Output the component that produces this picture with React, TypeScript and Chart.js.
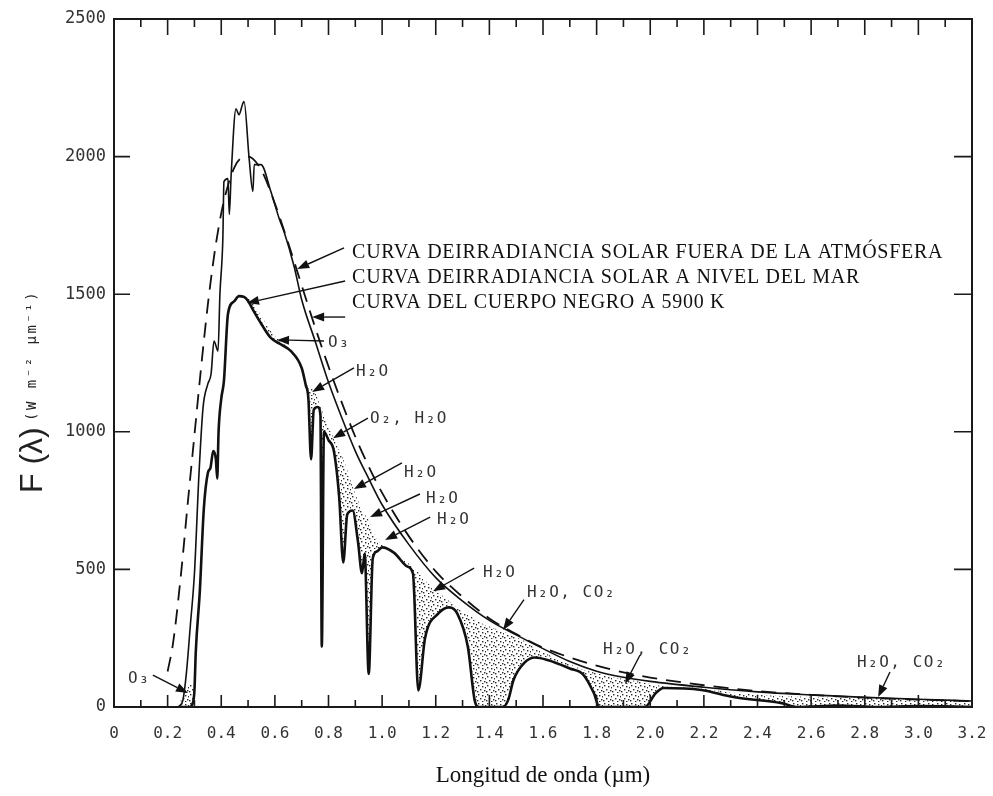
import React, { useEffect, useRef } from 'react';
import { Chart, registerables } from 'chart.js';

Chart.register(...registerables);

// ---- axis ranges ----
const X_MIN = 0;
const X_MAX = 3.2;
const X_STEP = 0.2;
const Y_MIN = 0;
const Y_MAX = 2500;
const Y_STEP = 500;

// ---- blackbody 5900 K (dashed) ----
const blackbodyX = [0.2, 0.22, 0.25, 0.275, 0.3, 0.325, 0.35, 0.375, 0.4, 0.425, 0.45, 0.475, 0.5, 0.55, 0.6, 0.65, 0.7, 0.75, 0.8, 0.85, 0.9, 0.95, 1.0, 1.1, 1.2, 1.3, 1.4, 1.5, 1.6, 1.7, 1.8, 1.9, 2.0, 2.2, 2.4, 2.6, 2.8, 3.0, 3.2];
const blackbodyY = [129, 230, 484, 740, 988, 1235, 1462, 1650, 1794, 1895, 1963, 1995, 2000, 1950, 1829, 1685, 1532, 1380, 1237, 1105, 982, 874, 778, 620, 493, 400, 322, 265, 216, 180, 150, 126, 107, 79, 58, 44, 34, 27, 21];

// ---- irradiance outside the atmosphere (thin solid) ----
const outsideX = [0.24, 0.257, 0.27, 0.285, 0.3, 0.317, 0.332, 0.35, 0.362, 0.373, 0.388, 0.395, 0.406, 0.41, 0.425, 0.43, 0.437, 0.455, 0.466, 0.48, 0.485, 0.504, 0.518, 0.523, 0.548, 0.585, 0.616, 0.634, 0.672, 0.7, 0.75, 0.8, 0.85, 0.9, 0.95, 1.0, 1.1, 1.2, 1.3, 1.4, 1.5, 1.6, 1.7, 1.8, 1.9, 2.0, 2.2, 2.4, 2.6, 2.8, 3.0, 3.2];
const outsideY = [0, 25, 123, 300, 485, 848, 1087, 1174, 1210, 1330, 1293, 1500, 1703, 1909, 1920, 1790, 1935, 2174, 2152, 2192, 2200, 1993, 1873, 1971, 1971, 1873, 1775, 1728, 1600, 1480, 1330, 1180, 1050, 930, 830, 735, 590, 470, 385, 315, 262, 212, 165, 130, 108, 93, 72, 55, 44, 35, 28, 22];

// ---- irradiance at sea level (thick solid) and top of absorbed (stippled) area ----
const seaLevelX = [0.24, 0.26, 0.28, 0.295, 0.3, 0.305, 0.32, 0.335, 0.35, 0.36, 0.37, 0.38, 0.385, 0.39, 0.4, 0.41, 0.425, 0.448, 0.466, 0.485, 0.5, 0.52, 0.55, 0.585, 0.62, 0.66, 0.7, 0.715, 0.725, 0.735, 0.745, 0.76, 0.77, 0.775, 0.783, 0.8, 0.82, 0.84, 0.855, 0.87, 0.89, 0.91, 0.925, 0.935, 0.95, 0.965, 0.98, 1.0, 1.045, 1.095, 1.115, 1.135, 1.16, 1.21, 1.25, 1.28, 1.32, 1.345, 1.36, 1.45, 1.47, 1.49, 1.53, 1.57, 1.62, 1.7, 1.75, 1.79, 1.81, 1.88, 1.98, 2.02, 2.05, 2.19, 2.31, 2.49, 2.55, 2.7, 2.85, 3.0, 3.2];
const seaLevelY = [0, 0, 0, 18, 60, 200, 420, 720, 850, 870, 930, 900, 830, 1000, 1120, 1185, 1428, 1474, 1493, 1490, 1475, 1440, 1391, 1341, 1319, 1293, 1232, 1170, 1120, 900, 1080, 1090, 1060, 220, 1000, 970, 930, 760, 525, 700, 714, 600, 486, 558, 120, 540, 565, 580, 560, 510, 485, 60, 250, 340, 362, 340, 217, 25, 0, 0, 25, 98, 160, 180, 170, 140, 118, 50, 0, 0, 0, 50, 69, 62, 36, 14, 0, 5, 0, 3, 0];
const absorptionTopY = [0, 50, 80, 80, 80, 200, 420, 720, 850, 870, 930, 900, 830, 1000, 1120, 1185, 1428, 1474, 1493, 1490, 1485, 1465, 1420, 1365, 1330, 1295, 1232, 1190, 1175, 1160, 1150, 1120, 1090, 1080, 1060, 1020, 975, 930, 900, 860, 800, 750, 720, 700, 678, 640, 610, 590, 560, 525, 505, 490, 460, 417, 385, 360, 335, 320, 310, 275, 268, 258, 240, 215, 190, 155, 135, 125, 120, 105, 88, 80, 75, 68, 52, 40, 38, 35, 33, 28, 22];

// ---- annotation texts (anchored in data units) ----
const curveLabels = [
  { text: 'CURVA DEIRRADIANCIA SOLAR FUERA DE LA ATMÓSFERA', x: 0.888, y: 1632 },
  { text: 'CURVA DEIRRADIANCIA SOLAR A NIVEL DEL MAR', x: 0.888, y: 1541 },
  { text: 'CURVA DEL CUERPO NEGRO A 5900 K', x: 0.888, y: 1450 },
];
const gasLabels = [
  { text: 'O₃', x: 0.798, y: 1308 },
  { text: 'H₂O', x: 0.903, y: 1203 },
  { text: 'O₂, H₂O', x: 0.955, y: 1032 },
  { text: 'H₂O', x: 1.082, y: 836 },
  { text: 'H₂O', x: 1.164, y: 741 },
  { text: 'H₂O', x: 1.205, y: 665 },
  { text: 'H₂O', x: 1.376, y: 472 },
  { text: 'H₂O, CO₂', x: 1.54, y: 400 },
  { text: 'H₂O, CO₂', x: 1.824, y: 193 },
  { text: 'H₂O, CO₂', x: 2.771, y: 145 },
  { text: 'O₃', x: 0.052, y: 87 },
];
const arrows = [
  { x1: 0.858, y1: 1668, x2: 0.683, y2: 1592 },
  { x1: 0.862, y1: 1548, x2: 0.496, y2: 1468 },
  { x1: 0.862, y1: 1417, x2: 0.739, y2: 1417 },
  { x1: 0.783, y1: 1330, x2: 0.608, y2: 1334 },
  { x1: 0.895, y1: 1232, x2: 0.739, y2: 1145 },
  { x1: 0.947, y1: 1050, x2: 0.817, y2: 977 },
  { x1: 1.074, y1: 887, x2: 0.895, y2: 792 },
  { x1: 1.141, y1: 774, x2: 0.955, y2: 690 },
  { x1: 1.179, y1: 690, x2: 1.011, y2: 607 },
  { x1: 1.343, y1: 505, x2: 1.19, y2: 421 },
  { x1: 1.529, y1: 390, x2: 1.451, y2: 280 },
  { x1: 1.962, y1: 189, x2: 1.906, y2: 84 },
  { x1: 2.894, y1: 127, x2: 2.85, y2: 36 },
  { x1: 0.145, y1: 116, x2: 0.276, y2: 51 },
];

const X_TITLE = 'Longitud de onda (µm)';
const Y_TITLE_MAIN = 'F (λ)';
const Y_TITLE_UNITS = '(W m⁻² µm⁻¹)';

const pts = (xs: number[], ys: number[]) => xs.map((x, i) => ({ x, y: ys[i] }));

function drawArrow(ctx: CanvasRenderingContext2D, x1: number, y1: number, x2: number, y2: number) {
  const ang = Math.atan2(y2 - y1, x2 - x1);
  const len = 12;
  const w = 4.5;
  const bx = x2 - len * Math.cos(ang);
  const by = y2 - len * Math.sin(ang);
  ctx.beginPath();
  ctx.moveTo(x1, y1);
  ctx.lineTo(bx, by);
  ctx.stroke();
  ctx.beginPath();
  ctx.moveTo(x2, y2);
  ctx.lineTo(bx + w * Math.sin(ang), by - w * Math.cos(ang));
  ctx.lineTo(bx - w * Math.sin(ang), by + w * Math.cos(ang));
  ctx.closePath();
  ctx.fill();
}

const decorPlugin = {
  id: 'decor',
  afterDraw(chart: any) {
    const { ctx, chartArea: a } = chart;
    const xs = chart.scales.x;
    const ys = chart.scales.y;
    ctx.save();
    // frame
    ctx.strokeStyle = '#1a1a1a';
    ctx.lineWidth = 2;
    ctx.strokeRect(a.left, a.top, a.right - a.left, a.bottom - a.top);
    // inward ticks
    ctx.lineWidth = 1.6;
    ctx.beginPath();
    const xv: number[] = xs.ticks.map((t: any) => t.value);
    xv.forEach((v, i) => {
      const px = xs.getPixelForValue(v);
      if (i > 0 && i < xv.length - 1) {
        ctx.moveTo(px, a.bottom); ctx.lineTo(px, a.bottom - 12);
        ctx.moveTo(px, a.top); ctx.lineTo(px, a.top + 16);
      }
      if (i < xv.length - 1) {
        const pm = xs.getPixelForValue((v + xv[i + 1]) / 2);
        ctx.moveTo(pm, a.bottom); ctx.lineTo(pm, a.bottom - 7);
        ctx.moveTo(pm, a.top); ctx.lineTo(pm, a.top + 8);
      }
    });
    const yv: number[] = ys.ticks.map((t: any) => t.value);
    yv.forEach((v, i) => {
      if (i === 0 || i === yv.length - 1) return;
      const py = ys.getPixelForValue(v);
      ctx.moveTo(a.left, py); ctx.lineTo(a.left + 16, py);
      ctx.moveTo(a.right, py); ctx.lineTo(a.right - 18, py);
    });
    ctx.stroke();

    // arrows
    ctx.strokeStyle = '#111';
    ctx.fillStyle = '#111';
    ctx.lineWidth = 1.4;
    arrows.forEach((ar) => {
      drawArrow(ctx, xs.getPixelForValue(ar.x1), ys.getPixelForValue(ar.y1), xs.getPixelForValue(ar.x2), ys.getPixelForValue(ar.y2));
    });

    // curve labels
    ctx.textAlign = 'left';
    ctx.textBaseline = 'alphabetic';
    ctx.fillStyle = '#111';
    ctx.font = '20px "Liberation Serif"';
    (ctx as any).letterSpacing = '0.7px';
    curveLabels.forEach((l) => ctx.fillText(l.text, xs.getPixelForValue(l.x), ys.getPixelForValue(l.y)));

    // gas labels
    ctx.fillStyle = '#333';
    ctx.font = '16px "DejaVu Sans Mono"';
    (ctx as any).letterSpacing = '1.5px';
    gasLabels.forEach((l) => ctx.fillText(l.text, xs.getPixelForValue(l.x), ys.getPixelForValue(l.y)));

    // x title
    (ctx as any).letterSpacing = '0px';
    ctx.fillStyle = '#111';
    ctx.textAlign = 'center';
    ctx.font = '23px "Liberation Serif"';
    ctx.fillText(X_TITLE, (a.left + a.right) / 2, 782);

    // y title
    ctx.save();
    ctx.translate(42, 493);
    ctx.rotate(-Math.PI / 2);
    ctx.textAlign = 'left';
    ctx.fillStyle = '#222';
    ctx.font = '32px "Liberation Sans"';
    ctx.fillText(Y_TITLE_MAIN, 0, 0);
    ctx.font = '14px "DejaVu Sans Mono"';
    (ctx as any).letterSpacing = '2.5px';
    ctx.fillText(Y_TITLE_UNITS, 72, -6);
    ctx.restore();

    ctx.restore();
  },
};

export default function App() {
  const ref = useRef<HTMLCanvasElement | null>(null);

  useEffect(() => {
    const canvas = ref.current;
    if (!canvas) return;
    const ctx = canvas.getContext('2d')!;

    const tile = document.createElement('canvas');
    tile.width = 9;
    tile.height = 9;
    const tc = tile.getContext('2d')!;
    tc.fillStyle = '#2a2a2a';
    [[1, 1], [5, 2], [3, 5], [7, 6], [0, 7], [8, 3], [5, 8]].forEach(([dx, dy]) => tc.fillRect(dx, dy, 1.4, 1.4));
    const stipple = ctx.createPattern(tile, 'repeat');

    const chart = new Chart(ctx, {
      type: 'line',
      data: {
        datasets: [
          {
            label: 'nivel del mar',
            data: pts(seaLevelX, seaLevelY),
            borderColor: '#111',
            borderWidth: 2.6,
            pointRadius: 0,
            fill: false,
            cubicInterpolationMode: 'monotone',
          },
          {
            label: 'fuera de la atmósfera',
            data: pts(outsideX, outsideY),
            borderColor: '#111',
            borderWidth: 1.6,
            pointRadius: 0,
            fill: false,
            cubicInterpolationMode: 'monotone',
          },
          {
            label: 'cuerpo negro 5900 K',
            data: pts(blackbodyX, blackbodyY),
            borderColor: '#111',
            borderWidth: 1.8,
            borderDash: [15, 9],
            pointRadius: 0,
            fill: false,
            cubicInterpolationMode: 'monotone',
          },
          {
            label: 'absorción',
            data: pts(seaLevelX, absorptionTopY),
            borderColor: 'rgba(0,0,0,0)',
            borderWidth: 0,
            pointRadius: 0,
            backgroundColor: stipple as any,
            fill: { target: 0 },
            cubicInterpolationMode: 'monotone',
          },
        ],
      },
      options: {
        animation: false,
        responsive: false,
        maintainAspectRatio: false,
        layout: { padding: { left: 0, right: 21, top: 19, bottom: 0 } },
        plugins: {
          legend: { display: false },
          tooltip: { enabled: false },
        },
        scales: {
          x: {
            type: 'linear',
            min: X_MIN,
            max: X_MAX,
            grid: { display: false, drawTicks: false },
            border: { display: false },
            ticks: {
              stepSize: X_STEP,
              autoSkip: false,
              maxRotation: 0,
              padding: 17,
              color: '#333',
              font: { family: 'DejaVu Sans Mono', size: 16 },
              callback: (v: any) => (Math.abs(Number(v)) < 1e-9 ? '0' : Number(v).toFixed(1)),
            },
            afterFit: (s: any) => { s.height = 89; s.paddingLeft = 0; s.paddingRight = 0; },
          },
          y: {
            type: 'linear',
            min: Y_MIN,
            max: Y_MAX,
            grid: { display: false, drawTicks: false },
            border: { display: false },
            ticks: {
              stepSize: Y_STEP,
              padding: 8,
              color: '#333',
              font: { family: 'DejaVu Sans Mono', size: 17 },
              callback: (v: any) => String(Math.round(Number(v))),
            },
            afterFit: (s: any) => { s.width = 114; s.paddingTop = 0; s.paddingBottom = 0; },
          },
        },
      },
      plugins: [decorPlugin],
    } as any);

    return () => chart.destroy();
  }, []);

  return (
    <div style={{ position: 'fixed', left: 0, top: 0, width: 993, height: 796, background: '#fff' }}>
      <canvas ref={ref} width={993} height={796} style={{ display: 'block' }} />
    </div>
  );
}
